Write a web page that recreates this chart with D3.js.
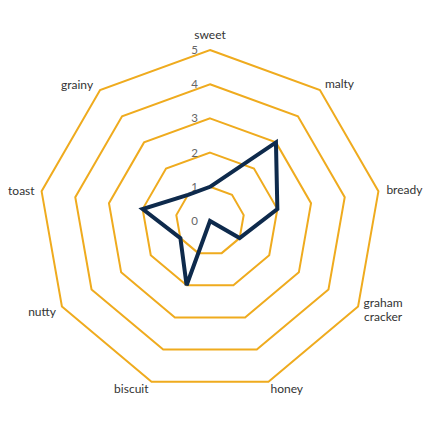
<!DOCTYPE html>
<html>
<head>
<meta charset="utf-8">
<script src="https://cdn.jsdelivr.net/npm/d3@7"></script>
<style>
  html, body { margin: 0; padding: 0; background: #fff; }
  svg { display: block; }
  text { font-family: Lato, "Open Sans", sans-serif; }
</style>
</head>
<body>
<svg id="chart" width="430" height="430"></svg>
<script>
const categories = ["sweet", "malty", "bready", "graham cracker", "honey", "biscuit", "nutty", "toast", "grainy"];
const values = [1, 3, 2, 1, 0, 2, 1, 2, 1];
const tickValues = [0, 1, 2, 3, 4, 5];
const ringLevels = [1, 2, 3, 4, 5];

const svg = d3.select("#chart");
const cx = 210, cy = 221, R = 171;
const r = d3.scaleLinear().domain([0, 5]).range([0, R]);
const n = categories.length;
const angle = d3.scalePoint().domain(d3.range(n + 1)).range([0, 2 * Math.PI]);
const g = svg.append("g").attr("transform", `translate(${cx},${cy})`);

const radial = d3.lineRadial()
  .angle((d, i) => angle(i))
  .radius(d => r(d))
  .curve(d3.curveLinearClosed);

// rings
g.selectAll("path.ring")
  .data(ringLevels)
  .join("path")
  .attr("class", "ring")
  .attr("d", lv => radial(categories.map(() => lv)))
  .attr("fill", "none")
  .attr("stroke", "#EFAB1E")
  .attr("stroke-width", 2);

// tick labels along sweet axis
g.selectAll("text.tick")
  .data(tickValues)
  .join("text")
  .attr("class", "tick")
  .attr("x", -12)
  .attr("y", d => -r(d))
  .attr("dy", "0.35em")
  .attr("text-anchor", "end")
  .attr("font-size", 11.5)
  .attr("fill", "#666")
  .text(d => d);

// data line
g.append("path")
  .attr("d", radial(values))
  .attr("fill", "none")
  .attr("stroke", "#0E2A4C")
  .attr("stroke-width", 4)
  .attr("stroke-linejoin", "miter");

// category labels
const labelPos = (i) => {
  const a = angle(i);
  const x = Math.sin(a) * R, y = -Math.cos(a) * R;
  const deg = a * 180 / Math.PI;
  let anchor = "middle", dx = 0, dy = 0;
  if (deg < 1) { dy = -15; }
  else if (deg < 60) { anchor = "start"; dx = 5; dy = -6; }
  else if (deg < 100) { anchor = "start"; dx = 8; dy = -2; }
  else if (deg < 140) { anchor = "middle"; dx = 25; dy = 3; }
  else if (deg < 180) { anchor = "start"; dx = 2; dy = 7; }
  else if (deg < 220) { anchor = "end"; dx = -3; dy = 7; }
  else if (deg < 260) { anchor = "end"; dx = -6; dy = 5; }
  else if (deg < 300) { anchor = "end"; dx = -7; dy = -1; }
  else { anchor = "end"; dx = -7; dy = -5; }
  return { x: x + dx, y: y + dy, anchor };
};

categories.forEach((c, i) => {
  const p = labelPos(i);
  const words = c.split(" ");
  const t = g.append("text")
    .attr("x", p.x)
    .attr("y", p.y)
    .attr("text-anchor", p.anchor)
    .attr("font-size", 12)
    .attr("fill", "#333");
  const lh = 14;
  const start = -(words.length - 1) * lh / 2;
  words.forEach((w, k) => {
    t.append("tspan")
      .attr("x", p.x)
      .attr("y", p.y + start + k * lh)
      .attr("dy", "0.35em")
      .text(w);
  });
});
</script>
</body>
</html>
